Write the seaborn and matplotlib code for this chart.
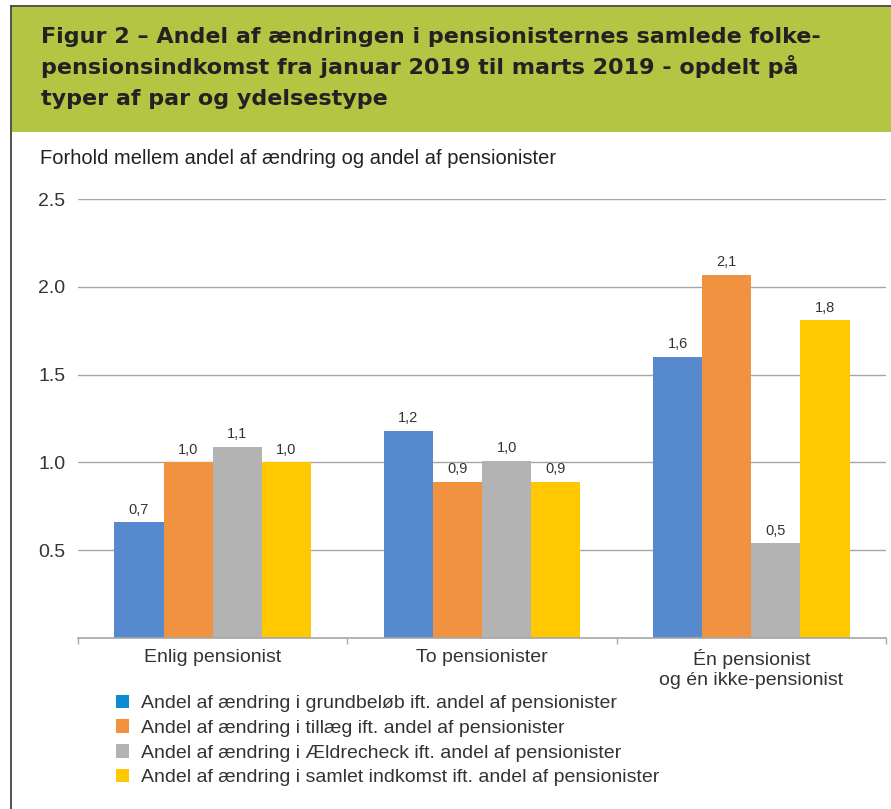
import pandas as pd
import matplotlib.pyplot as plt
import seaborn as sns
from matplotlib.patches import Rectangle, Patch
from matplotlib.lines import Line2D
from matplotlib.ticker import FixedLocator

sns.set_theme(style='white')
plt.rcParams['font.family'] = ['Liberation Sans', 'DejaVu Sans']

# =====================================================
# DATA
# =====================================================
categories = ['Enlig pensionist', 'To pensionister', 'Én pensionist\nog én ikke-pensionist']
series = [
    'Andel af ændring i grundbeløb ift. andel af pensionister',
    'Andel af ændring i tillæg ift. andel af pensionister',
    'Andel af ændring i Ældrecheck ift. andel af pensionister',
    'Andel af ændring i samlet indkomst ift. andel af pensionister',
]
grundbeloeb = [0.66, 1.18, 1.60]
tillaeg = [1.00, 0.89, 2.07]
aeldrecheck = [1.09, 1.01, 0.54]
samlet = [1.00, 0.89, 1.81]
y_ticks = [0.5, 1.0, 1.5, 2.0, 2.5]

bar_colors = ['#5689ce', '#f19241', '#b3b3b3', '#ffc800']
legend_colors = ['#0a8bd2', '#f19241', '#b3b3b3', '#ffc800']

title_lines = ['Figur 2 – Andel af ændringen i pensionisternes samlede folke-',
               'pensionsindkomst fra januar 2019 til marts 2019 - opdelt på',
               'typer af par og ydelsestype']
subtitle = 'Forhold mellem andel af ændring og andel af pensionister'

df = pd.DataFrame({
    'kategori': categories * 4,
    'serie': [s for s in series for _ in categories],
    'værdi': grundbeloeb + tillaeg + aeldrecheck + samlet,
})

# =====================================================
# FIGURE
# =====================================================
fig = plt.figure(figsize=(8.91, 8.09), dpi=100)
W, H = 891, 809

# green title band + frame lines
fig.add_artist(Rectangle((12 / W, 1 - 132 / H), 1 - 12 / W, 125 / H,
                         transform=fig.transFigure, facecolor='#b4c544', edgecolor='none'))
fig.add_artist(Line2D([11 / W, 11 / W], [0, 1 - 6 / H], transform=fig.transFigure,
                      color='#333333', lw=1.2))
fig.add_artist(Line2D([11 / W, 1], [1 - 6 / H, 1 - 6 / H], transform=fig.transFigure,
                      color='#333333', lw=1.2))

for line, base in zip(title_lines, [43, 74, 105]):
    fig.text(41 / W, 1 - base / H, line, ha='left', va='baseline', fontsize=16,
             fontweight='bold', color='#222222', family=['DejaVu Sans'])
fig.text(40 / W, 1 - 158 / H, subtitle, ha='left', va='center', fontsize=14.5, color='#222222')

ax = fig.add_axes([78 / W, 1 - 638 / H, 808 / W, 439 / H])

sns.barplot(data=df, x='kategori', y='værdi', hue='serie', palette=bar_colors,
            width=0.73, gap=0, legend=False, ax=ax, saturation=1, edgecolor='none', linewidth=0)

for cont in ax.containers:
    ax.bar_label(cont, labels=[f"{b.get_height():.1f}".replace('.', ',') for b in cont],
                 padding=4, fontsize=10.5, color='#333333')

ax.set_ylim(0, 2.5)
ax.set_xlim(-0.5, 2.5)
ax.set_yticks(y_ticks)
ax.set_yticklabels([f"{t:.1f}" for t in y_ticks], fontsize=14, color='#333333')
ax.yaxis.grid(True, color='#a6a6a6', lw=1)
ax.set_axisbelow(True)
ax.set_xlabel('')
ax.set_ylabel('')
ax.set_xticks(range(len(categories)))
ax.set_xticklabels(categories, fontsize=14, color='#333333', linespacing=1.2)
ax.xaxis.set_minor_locator(FixedLocator([-0.5, 0.5, 1.5, 2.5]))
ax.tick_params(axis='x', which='major', length=0, pad=8)
ax.tick_params(axis='x', which='minor', length=4, color='#a6a6a6', bottom=True)
ax.tick_params(axis='y', length=0, pad=9)
for s in ['top', 'right', 'left']:
    ax.spines[s].set_visible(False)
ax.spines['bottom'].set_color('#a6a6a6')
ax.spines['bottom'].set_linewidth(1.2)

handles = [Patch(facecolor=c, edgecolor='none') for c in legend_colors]
fig.legend(handles, series, loc='upper left', bbox_to_anchor=(108 / W, 1 - 687 / H),
           frameon=False, fontsize=14, handlelength=0.7, handleheight=0.7,
           handletextpad=0.6, labelspacing=0.36, borderaxespad=0, labelcolor='#333333')

fig.savefig('out.png', dpi=100, facecolor='white')
